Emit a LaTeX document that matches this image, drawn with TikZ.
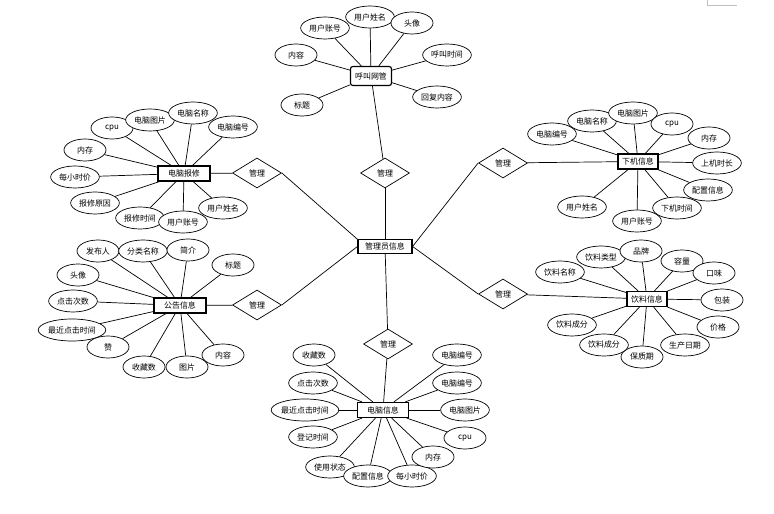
\documentclass[tikz,border=0pt]{standalone}
\usepackage{fontspec}
\setmainfont{Noto Sans CJK SC}
\usepackage{tikz}
\usetikzlibrary{shapes.geometric}

\begin{document}
\begin{tikzpicture}[x=0.03cm,y=-0.03cm,line width=0.6pt,
  font=\fontsize{6.8pt}{8pt}\selectfont,
  attr/.style={ellipse, draw, fill=white, inner sep=0pt, minimum width=1.26cm, minimum height=0.66cm},
  attrw/.style={attr, minimum width=1.46cm},
  attrx/.style={attr, minimum width=1.95cm},
  ent/.style={rectangle, draw, fill=white, line width=1pt, inner sep=0pt, minimum height=0.45cm},
  rel/.style={diamond, draw, fill=white, inner sep=0pt, minimum width=1.47cm, minimum height=0.9cm}]
\useasboundingbox (0,0) rectangle (774,514);
\draw[gray!50, line width=0.4pt] (707,0) |- (737,5);

\node[ent, minimum width=1.62cm, minimum height=0.4cm] (Ent0) at (385,246.5) {管理员信息};

% 呼叫网管
\node[ent, rounded corners=2pt, minimum width=1.23cm, minimum height=0.57cm] (Ent1) at (371,76) {呼叫网管};
\node[rel] (Rel1) at (385,173) {管理};
\node[attrw] (t1) at (325,28) {用户账号};
\node[attrw] (t2) at (370,17) {用户姓名};
\node[attr] (t3) at (412,23) {头像};
\node[attr] (t4) at (296,55) {内容};
\node[attrw] (t5) at (447,55) {呼叫时间};
\node[attr] (t6) at (302,105) {标题};
\node[attrw] (t7) at (437,97) {回复内容};

% 电脑报修
\node[ent, minimum width=1.56cm] (Ent2) at (184,173.5) {电脑报修};
\node[rel] (Rel2) at (257,173) {管理};
\node[attr] (r1) at (112,128) {cpu};
\node[attrw] (r2) at (150,120) {电脑图片};
\node[attrw] (r3) at (193,113) {电脑名称};
\node[attrw] (r4) at (233,127) {电脑编号};
\node[attr] (r5) at (85,150) {内存};
\node[attrw] (r6) at (75,177) {每小时价};
\node[attrw] (r7) at (95,203) {报修原因};
\node[attrw] (r8) at (140,218) {报修时间};
\node[attrw] (r9) at (183,222) {用户账号};
\node[attrw] (r10) at (223,208) {用户姓名};

% 下机信息
\node[ent, minimum width=1.2cm] (Ent3) at (638,161.5) {下机信息};
\node[rel] (Rel4) at (503,163) {管理};
\node[attrw] (d1) at (552,134) {电脑编号};
\node[attrw] (d2) at (592,121) {电脑名称};
\node[attrw] (d3) at (633,113) {电脑图片};
\node[attr] (d4) at (672,124) {cpu};
\node[attr] (d5) at (709,138) {内存};
\node[attrw] (d6) at (717,163) {上机时长};
\node[attrw] (d7) at (708,190) {配置信息};
\node[attrw] (d8) at (677,208) {下机时间};
\node[attrw] (d9) at (637,221) {用户账号};
\node[attrw] (d10) at (582,207) {用户姓名};

% 公告信息
\node[ent, minimum width=1.56cm] (Ent4) at (180,305.5) {公告信息};
\node[rel] (Rel3) at (257,305) {管理};
\node[attr] (g1) at (98,251) {发布人};
\node[attrw] (g2) at (143,251) {分类名称};
\node[attr] (g3) at (188,250) {简介};
\node[attr] (g4) at (233,265) {标题};
\node[attr] (g5) at (78,275) {头像};
\node[attrw] (g6) at (73,301) {点击次数};
\node[attrx] (g7) at (72,330) {最近点击时间};
\node[attr] (g8) at (108,347) {赞};
\node[attr] (g9) at (144,367) {收藏数};
\node[attr] (g10) at (187,367) {图片};
\node[attr] (g11) at (223,355) {内容};

% 饮料信息
\node[ent, minimum width=1.2cm] (Ent5) at (647,299) {饮料信息};
\node[rel] (Rel5) at (503,294) {管理};
\node[attrw] (y1) at (560,272) {饮料名称};
\node[attrw] (y2) at (601,257) {饮料类型};
\node[attr] (y3) at (641,251) {品牌};
\node[attr] (y4) at (682,261) {容量};
\node[attr] (y5) at (714,273) {口味};
\node[attr] (y6) at (722,300) {包装};
\node[attr] (y7) at (718,327) {价格};
\node[attrw] (y8) at (685,345) {生产日期};
\node[attr] (y9) at (642,357) {保质期};
\node[attrw] (y10) at (604,345) {饮料成分};
\node[attrw] (y11) at (572,325) {饮料成分};

% 电脑信息
\node[ent, minimum width=1.53cm] (Ent6) at (383,410) {电脑信息};
\node[rel] (Rel6) at (388,344) {管理};
\node[attr] (p1) at (314,355) {收藏数};
\node[attrw] (p2) at (313,383) {点击次数};
\node[attrx] (p3) at (305,410) {最近点击时间};
\node[attrw] (p4) at (313,437) {登记时间};
\node[attrw] (p5) at (330,467) {使用状态};
\node[attrw] (p6) at (368,476) {配置信息};
\node[attrw] (p7) at (412,476) {每小时价};
\node[attr] (p8) at (433,457) {内存};
\node[attr] (p9) at (465,438) {cpu};
\node[attrw] (p10) at (465,410) {电脑图片};
\node[attrw] (p11) at (457,383) {电脑编号};
\node[attrw] (p12) at (457,355) {电脑编号};

\draw (Ent0) -- (Rel1);
\draw (Ent0.north west) -- (Rel2.east);
\draw (Ent0.west) -- (Rel3.east);
\draw (Ent0.east) -- (Rel4.west);
\draw (Ent0.east) -- (Rel5.west);
\draw (Ent0) -- (Rel6);
\draw (Rel1) -- (Ent1);
\draw (Rel2) -- (Ent2);
\draw (Rel3) -- (Ent4);
\draw (Rel4) -- (Ent3);
\draw (Rel5) -- (Ent5);
\draw (Rel6) -- (Ent6);

\draw (t1) -- (Ent1);
\draw (t2) -- (Ent1);
\draw (t3) -- (Ent1);
\draw (t4) -- (Ent1);
\draw (t5) -- (Ent1);
\draw (t6) -- (Ent1);
\draw (t7) -- (Ent1);

\draw (r1) -- (Ent2);
\draw (r2) -- (Ent2);
\draw (r3) -- (Ent2);
\draw (r4) -- (Ent2);
\draw (r5) -- (Ent2);
\draw (r6) -- (Ent2);
\draw (r7) -- (Ent2);
\draw (r8) -- (Ent2);
\draw (r9) -- (Ent2);
\draw (r10) -- (Ent2);

\draw (d1) -- (Ent3);
\draw (d2) -- (Ent3);
\draw (d3) -- (Ent3);
\draw (d4) -- (Ent3);
\draw (d5) -- (Ent3);
\draw (d6) -- (Ent3);
\draw (d7) -- (Ent3);
\draw (d8) -- (Ent3);
\draw (d9) -- (Ent3);
\draw (d10) -- (Ent3);

\draw (g1) -- (Ent4);
\draw (g2) -- (Ent4);
\draw (g3) -- (Ent4);
\draw (g4) -- (Ent4);
\draw (g5) -- (Ent4);
\draw (g6) -- (Ent4);
\draw (g7) -- (Ent4);
\draw (g8) -- (Ent4);
\draw (g9) -- (Ent4);
\draw (g10) -- (Ent4);
\draw (g11) -- (Ent4);

\draw (y1) -- (Ent5);
\draw (y2) -- (Ent5);
\draw (y3) -- (Ent5);
\draw (y4) -- (Ent5);
\draw (y5) -- (Ent5);
\draw (y6) -- (Ent5);
\draw (y7) -- (Ent5);
\draw (y8) -- (Ent5);
\draw (y9) -- (Ent5);
\draw (y10) -- (Ent5);
\draw (y11) -- (Ent5);

\draw (p1) -- (Ent6);
\draw (p2) -- (Ent6);
\draw (p3) -- (Ent6);
\draw (p4) -- (Ent6);
\draw (p5) -- (Ent6);
\draw (p6) -- (Ent6);
\draw (p7) -- (Ent6);
\draw (p8) -- (Ent6);
\draw (p9) -- (Ent6);
\draw (p10) -- (Ent6);
\draw (p11) -- (Ent6);
\draw (p12) -- (Ent6);
\end{tikzpicture}
\end{document}
